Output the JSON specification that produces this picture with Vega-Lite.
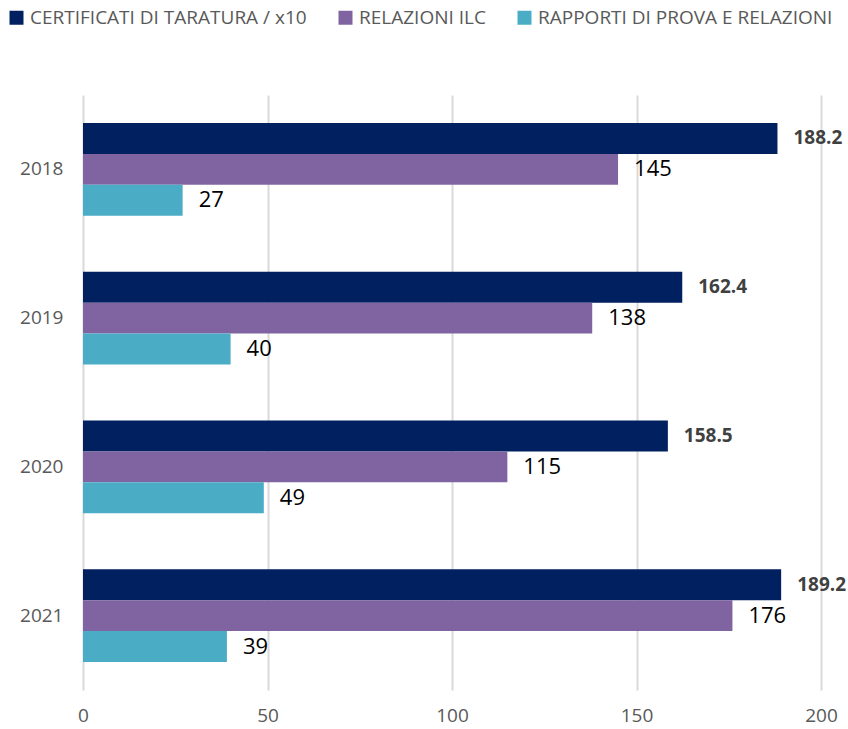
{
  "$schema": "https://vega.github.io/schema/vega-lite/v6.json",
  "width": 738,
  "height": 595,
  "autosize": {"type": "none"},
  "padding": {"left": 83, "top": 95, "right": 27, "bottom": 39},
  "config": {
    "view": {"stroke": null},
    "font": "Open Sans"
  },
  "data": {
    "values": [
      {"year": "2018", "series": "CERTIFICATI DI TARATURA / x10", "value": 188.2},
      {"year": "2018", "series": "RELAZIONI ILC", "value": 145},
      {"year": "2018", "series": "RAPPORTI DI PROVA E RELAZIONI", "value": 27},
      {"year": "2019", "series": "CERTIFICATI DI TARATURA / x10", "value": 162.4},
      {"year": "2019", "series": "RELAZIONI ILC", "value": 138},
      {"year": "2019", "series": "RAPPORTI DI PROVA E RELAZIONI", "value": 40},
      {"year": "2020", "series": "CERTIFICATI DI TARATURA / x10", "value": 158.5},
      {"year": "2020", "series": "RELAZIONI ILC", "value": 115},
      {"year": "2020", "series": "RAPPORTI DI PROVA E RELAZIONI", "value": 49},
      {"year": "2021", "series": "CERTIFICATI DI TARATURA / x10", "value": 189.2},
      {"year": "2021", "series": "RELAZIONI ILC", "value": 176},
      {"year": "2021", "series": "RAPPORTI DI PROVA E RELAZIONI", "value": 39}
    ]
  },
  "encoding": {
    "y": {
      "field": "year",
      "type": "nominal",
      "title": null,
      "scale": {"paddingInner": 0.375, "paddingOuter": 0.1875},
      "axis": {
        "domain": false,
        "ticks": false,
        "labelPadding": 20,
        "labelFontSize": 19,
        "labelColor": "#595959"
      }
    },
    "yOffset": {
      "field": "series",
      "type": "nominal",
      "sort": ["CERTIFICATI DI TARATURA / x10", "RELAZIONI ILC", "RAPPORTI DI PROVA E RELAZIONI"],
      "scale": {"paddingInner": 0, "paddingOuter": 0}
    },
    "x": {
      "field": "value",
      "type": "quantitative",
      "title": null,
      "scale": {"domain": [0, 200], "nice": false},
      "axis": {
        "values": [0, 50, 100, 150, 200],
        "domain": false,
        "ticks": false,
        "grid": true,
        "gridColor": "#d9d9d9",
        "gridWidth": 2,
        "labelPadding": 16,
        "labelFontSize": 19,
        "labelColor": "#595959",
        "labelFlush": false
      }
    }
  },
  "layer": [
    {
      "mark": {"type": "bar"},
      "encoding": {
        "color": {
          "field": "series",
          "type": "nominal",
          "sort": ["CERTIFICATI DI TARATURA / x10", "RELAZIONI ILC", "RAPPORTI DI PROVA E RELAZIONI"],
          "scale": {
            "domain": ["CERTIFICATI DI TARATURA / x10", "RELAZIONI ILC", "RAPPORTI DI PROVA E RELAZIONI"],
            "range": ["#002060", "#8064a2", "#4bacc6"]
          },
          "legend": {
            "title": null,
            "orient": "none",
            "direction": "horizontal",
            "legendX": -76,
            "legendY": -87,
            "symbolType": "square",
            "symbolSize": 196,
            "symbolStrokeWidth": 0,
            "labelFontSize": 19,
            "labelColor": "#595959",
            "labelOffset": 4,
            "columnPadding": 29,
            "labelLimit": 400
          }
        }
      }
    },
    {
      "transform": [{"filter": "datum.series === 'CERTIFICATI DI TARATURA / x10'"}],
      "mark": {"type": "text", "align": "left", "baseline": "middle", "dx": 16, "fontSize": 19, "fontWeight": "bold", "color": "#404040"},
      "encoding": {"text": {"field": "value", "type": "quantitative", "format": ".1f"}}
    },
    {
      "transform": [{"filter": "datum.series !== 'CERTIFICATI DI TARATURA / x10'"}],
      "mark": {"type": "text", "align": "left", "baseline": "middle", "dx": 16, "fontSize": 22, "color": "#000000"},
      "encoding": {"text": {"field": "value", "type": "quantitative"}}
    }
  ]
}
